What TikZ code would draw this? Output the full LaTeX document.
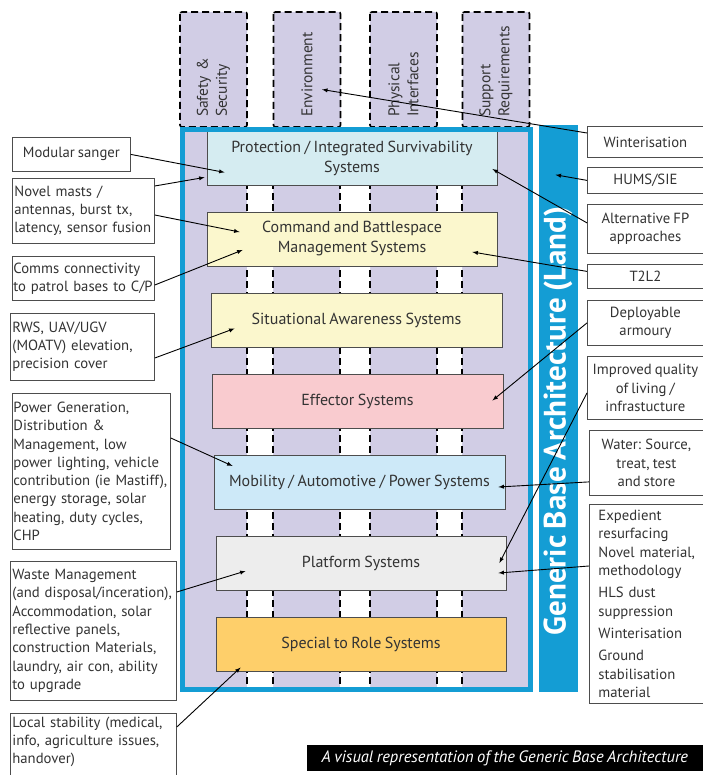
\documentclass[tikz,border=0pt]{standalone}
\usepackage{fontspec}
\setmainfont{PT Sans}[WordSpace=0.8]
\usetikzlibrary{calc}
\usetikzlibrary{positioning}
\usetikzlibrary{arrows.meta}

\definecolor{lavender}{HTML}{D1CDE5}
\definecolor{baseblue}{HTML}{149DD4}
\definecolor{boxgray}{HTML}{4D4D4D}
\definecolor{txtgray}{HTML}{333333}
\definecolor{protfill}{HTML}{D5ECF1}
\definecolor{cmdfill}{HTML}{FBF7CD}
\definecolor{efffill}{HTML}{F9CBCF}
\definecolor{mobfill}{HTML}{CDE9F8}
\definecolor{platfill}{HTML}{EDEDED}
\definecolor{strfill}{HTML}{FECF6A}

\tikzset{
  colbox/.style={draw=black, fill=lavender, dash pattern=on 7pt off 4pt, line width=1.6pt,
    rounded corners=2pt, rotate=90, minimum height=67, text width=95, inner xsep=10pt,
    inner ysep=3pt, align=left, text=txtgray, font=\fontsize{15.5}{19}\selectfont},
  sysbox/.style={draw=boxgray, line width=0.8pt, minimum width=290, minimum height=54,
    align=center, text=txtgray, font=\fontsize{16}{20}\selectfont},
  lnote/.style={draw=boxgray, fill=white, line width=0.8pt, anchor=north west, align=left,
    inner xsep=2pt, text=txtgray},
  rnote/.style={lnote, align=center, minimum width=116},
  stripline/.style={black, dash pattern=on 7pt off 4pt, line width=1.6pt},
  arr/.style={->, >=latex, line width=0.9pt, black}
}

\begin{document}
\begin{tikzpicture}[x=1pt, y=-1pt, font=\fontsize{14.7}{18.3}\selectfont]
      \useasboundingbox (0,0) rectangle (702,775);

      \fill[lavender] (180,127) rectangle (532,692);
      \fill[white] (247,131) rectangle (273,688) (340,131) rectangle (370,688) (437,131) rectangle (462,688);
      \draw[stripline] (247,127) -- (247,690) (273,127) -- (273,690) (340,127) -- (340,690)
        (370,127) -- (370,690) (437,127) -- (437,690) (462,127) -- (462,690);

      \node[colbox] (colSafe) at (213.5,69.5) {Safety \&\\Security};
      \node[colbox] (colEnv) at (307,69.5) {Environment};
      \node[colbox] (colPhys) at (403.5,69.5) {Physical\\Interfaces};
      \node[colbox] (colSupp) at (496,69.5) {Support\\Requirements};

      \node[sysbox, fill=protfill] (prot) at (352,158) {Protection / Integrated Survivability\\Systems};
      \node[sysbox, fill=cmdfill] (cbm) at (352,239) {Command and Battlespace\\Management Systems};
      \node[sysbox, fill=cmdfill, minimum width=291] (sa) at (356.5,320.5) {Situational Awareness Systems};
      \node[sysbox, fill=efffill, minimum width=291] (eff) at (357.5,401.5) {Effector Systems};
      \node[sysbox, fill=mobfill, minimum width=291] (mob) at (359.5,482) {Mobility / Automotive / Power Systems};
      \node[sysbox, fill=platfill] (plat) at (361,563) {Platform Systems};
      \node[sysbox, fill=strfill] (str) at (361,644.5) {Special to Role Systems};

      \draw[baseblue, line width=4.5pt] (182.5,129.5) rectangle (530.5,689.5);

      \node[fill=baseblue, minimum width=39, minimum height=567, inner sep=0pt] (gba) at (558.5,408.5) {};
      \node[rotate=90, text=white, font=\fontsize{31}{35}\selectfont\bfseries] (gbaLabel) at (558,421)
        {Generic Base Architecture (Land)};

      \node[lnote, minimum width=118, minimum height=34, align=center] (sanger) at (12,137) {Modular sanger};
      \node[lnote, text width=138, minimum height=65] (masts) at (12,178) {Novel masts /\\antennas, burst tx,\\latency, sensor fusion};
      \node[lnote, text width=140, inner xsep=1pt, minimum height=44] (comms) at (12,256) {Comms connectivity\\to patrol bases to~C/P};
      \node[lnote, text width=140, minimum height=67] (rws) at (10,313) {RWS, UAV/UGV\\(MOATV) elevation,\\precision cover};
      \node[lnote, text width=156, inner xsep=1pt, minimum height=156] (power) at (12,393) {Power Generation,\\Distribution \&\\Management, low\\power lighting, vehicle\\contribution (ie Mastiff),\\energy storage, solar\\heating, duty cycles,\\CHP};
      \node[lnote, text width=162, minimum height=139] (waste) at (10,561) {Waste Management\\(and disposal/inceration),\\Accommodation, solar\\reflective panels,\\construction Materials,\\laundry, air con, ability\\to upgrade};
      \node[lnote, text width=162, text depth=55] (local) at (10,713) {Local stability (medical,\\info, agriculture issues,\\handover)};

      \node[rnote, minimum height=31] (winter) at (587,126) {Winterisation};
      \node[rnote, minimum height=26] (hums) at (587,167) {HUMS/SIE};
      \node[rnote, minimum height=49] (altfp) at (587,204) {Alternative FP\\approaches};
      \node[rnote, minimum height=24] (t2l2) at (587,264) {T2L2};
      \node[rnote, minimum height=45] (armour) at (587,300) {Deployable\\armoury};
      \node[rnote, minimum height=63] (living) at (587,356) {Improved quality\\of living /\\infrastucture};
      \node[rnote, minimum height=65, minimum width=114] (water) at (589,430) {Water: Source,\\treat, test\\and store};
      \node[lnote, text width=98, minimum width=116, minimum height=199] (exped) at (589,504)
        {Expedient\\resurfacing\\Novel material,\\methodology\\[4pt]HLS dust\\suppression\\[4pt]Winterisation\\[4pt]Ground\\stabilisation\\material};

      \draw[arr] (sanger.east) -- ($(prot.south west)+(18,-13)$);
      \draw[arr] ($(masts.north east)+(0,8)$) -- ($(prot.south west)+(-2,-8)$);
      \draw[arr] ($(masts.north east)+(0,37)$) -- ($(cbm.west)+(33,-7)$);
      \draw[arr] ($(comms.north east)+(0,29)$) -- ($(cbm.west)+(36,11)$);
      \draw[arr] ($(rws.north east)+(0,45)$) -- ($(sa.west)+(24,8)$);
      \draw[arr] ($(power.north east)+(0,45)$) -- ($(mob.west)+(19,-16)$);
      \draw[arr] ($(waste.north east)+(0,31)$) -- ($(plat.west)+(30,8)$);
      \draw[arr] ($(local.north east)+(0,14)$) -- ($(str.west)+(25,23)$);

      \draw[arr] ($(winter.north west)+(0,7)$) -- ($(colEnv.center)+(15,20)$);
      \draw[arr] (hums.west) -- ($(gba.north)+(-3,50)$);
      \draw[arr] ($(altfp.west)+(0,-6)$) -- ($(prot.east)+(-5,11)$);
      \draw[arr] ($(t2l2.west)+(0,-5)$) -- ($(cbm.east)+(-25,13)$);
      \draw[arr] (armour.west) -- ($(eff.east)+(-11,-1)$);
      \draw[arr] ($(living.west)+(0,5)$) -- ($(plat.east)+(-7,0)$);
      \draw[arr] ($(water.west)+(0,19)$) -- ($(mob.east)+(-7,5)$);
      \draw[arr] ($(exped.north west)+(0,62)$) -- ($(plat.east)+(-8,10)$);

      \node[fill=black, text=white, font=\fontsize{16.5}{19}\selectfont\itshape, minimum width=396,
        minimum height=26, anchor=north east] (caption) at (703,745)
        {A visual representation of the Generic Base Architecture};
    \end{tikzpicture}
\end{document}
